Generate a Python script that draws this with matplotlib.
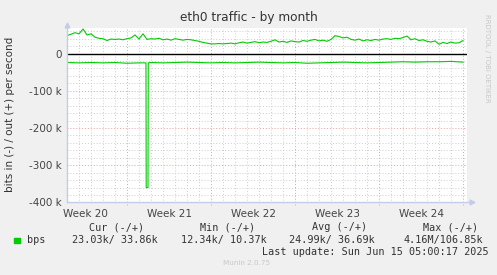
"""Munin style eth0 traffic graph, by month."""
import matplotlib
matplotlib.use("Agg")
import matplotlib.pyplot as plt

W, H = 497, 275

# Data (values in bits per second, x in days from graph start)
out_step = 1 / 3.0  # one reading every 4 px
out_k = [48, 52, 56, 53, 66, 50, 53, 44, 41, 40,
         35, 39, 38, 39, 37, 40, 42, 50, 39, 53,
         38, 40, 39, 41, 37, 39, 36, 40, 38, 36,
         38, 37, 35, 33, 30, 28, 26, 26, 27, 26,
         27, 28, 26, 29, 31, 28, 30, 32, 29, 31,
         30, 33, 37, 31, 33, 30, 34, 32, 31, 35,
         33, 36, 38, 34, 36, 33, 38, 48, 46, 42,
         44, 38, 36, 39, 34, 37, 35, 38, 36, 39,
         40, 38, 41, 40, 43, 47, 37, 40, 35, 37,
         33, 31, 34, 25, 30, 27, 31, 28, 29, 35]
out_days = [i * out_step for i in range(len(out_k))]

in_days = [0, 1, 2, 3, 4, 5, 6, 6.58, 6.60, 6.75, 6.77,
           7, 8, 9, 10, 11, 12, 13, 14, 15, 16, 17, 18, 19, 20,
           21, 22, 23, 24, 25, 26, 27, 28, 29, 30, 31, 32, 33]
in_k = [-24, -25, -24, -25, -24, -26, -25, -25, -360, -360, -25,
        -24, -25, -24, -23, -24, -25, -24, -25, -24, -23, -24, -25, -24, -26,
        -25, -24, -23, -24, -25, -24, -23, -22, -23, -22, -22, -21, -23]

week_labels = ["Week 20", "Week 21", "Week 22", "Week 23", "Week 24"]
week_lines = [5.04, 12.04, 19.04, 26.04, 33.04]
y_ticks = [0, -100e3, -200e3, -300e3, -400e3]
y_tick_labels = ["0", "-100 k", "-200 k", "-300 k", "-400 k"]

col_heads = ["Cur (-/+)", "Min (-/+)", "Avg (-/+)", "Max (-/+)"]
col_vals = ["23.03k/ 33.86k", "12.34k/ 10.37k", "24.99k/ 36.69k", "4.16M/106.85k"]

GREEN = "#00CC00"
AXIS = "#C4CCEA"
MINOR = "#CDCDCD"
MAJOR = "#E6A0A0"

fig = plt.figure(figsize=(W / 100, H / 100), dpi=100, facecolor="#F0F0F0")
ax = fig.add_axes([67 / W, 1 - 202.5 / H, 400 / W, 175 / H])
ax.set_facecolor("white")
ax.set_xlim(0, 400 / 12)
ax.set_ylim(-400e3, 70e3)
for s in ax.spines.values():
    s.set_visible(False)

# grid: minor every day / 20k, major every week / 100k
dots = (0, (1, 2))
for d in range(34):
    x = week_lines[-1] - d
    if x > 0 and all(abs(x - w) > 0.01 for w in week_lines):
        ax.axvline(x, color=MINOR, lw=0.7, ls=dots, zorder=1)
for w in week_lines:
    ax.plot([w, w], [-408e3, 70e3], color=MAJOR, lw=0.7, ls=dots,
            zorder=1, clip_on=False)
for v in range(-400, 70, 20):
    if v % 100:
        ax.axhline(v * 1e3, color=MINOR, lw=0.7, ls=dots, zorder=1)
for v in y_ticks[1:]:
    ax.axhline(v, color=MAJOR, lw=0.7, ls=dots, zorder=1)

ax.axhline(0, color="black", lw=1.0, zorder=3)

ax.plot(out_days, [v * 1e3 for v in out_k], color=GREEN, lw=0.8, zorder=4)
ax.plot(in_days, [v * 1e3 for v in in_k], color=GREEN, lw=0.8, zorder=4)

# axes with arrows
ax.plot([0, 0], [-400e3, 75e3], color=AXIS, lw=1.0, clip_on=False, zorder=5)
ax.plot([0, 400 / 12 + 0.3], [-400e3, -400e3], color=AXIS, lw=1.0,
        clip_on=False, zorder=5)
ax.plot([0], [78e3], marker="^", ms=3.5, color=AXIS, clip_on=False, zorder=5)
ax.plot([400 / 12 + 0.4], [-400e3], marker=">", ms=3.5, color=AXIS,
        clip_on=False, zorder=5)

ax.set_xticks([w - 3.5 for w in week_lines])
ax.set_xticklabels(week_labels)
ax.set_yticks(y_ticks)
ax.set_yticklabels(y_tick_labels)
ax.tick_params(length=0, labelsize=7.5, colors="#444444", pad=4)
ax.tick_params(axis="x", pad=5)

fig.text(0.5, 1 - 18 / H, "eth0 traffic - by month", ha="center", va="center",
         fontsize=8.7, color="#333333")
fig.text(10 / W, 1 - 114 / H, "bits in (-) / out (+) per second",
         rotation=90, ha="center", va="center", fontsize=7.5, color="#333333")
fig.text(487 / W, 1 - 58 / H, "RRDTOOL / TOBI OETIKER", rotation=-90,
         ha="center", va="center", fontsize=5, color="#C8C8C8")

# legend table
mono = "DejaVu Sans Mono"
head_x = [89, 200, 312, 423]
val_x = [72.5, 181, 289, 403]
for t, x in zip(col_heads, head_x):
    fig.text(x / W, 1 - 227 / H, t, family=mono, fontsize=7.3,
             color="#333333", va="center")
for t, x in zip(col_vals, val_x):
    fig.text(x / W, 1 - 240 / H, t, family=mono, fontsize=7.3,
             color="#333333", va="center")
fig.patches.append(plt.Rectangle((14 / W, 1 - 243 / H), 5.5 / W, 5.5 / H,
                                 transform=fig.transFigure, color=GREEN))
fig.text(26.5 / W, 1 - 240 / H, "bps", family=mono, fontsize=7.3,
         color="#333333", va="center")
fig.text(261.5 / W, 1 - 252 / H, "Last update: Sun Jun 15 05:00:17 2025",
         family=mono, fontsize=7.3, color="#333333", va="center")
fig.text(223 / W, 1 - 263 / H, "Munin 2.0.75", fontsize=5.2,
         color="#C8C8C8", va="center")

fig.savefig("out.png", dpi=100, facecolor=fig.get_facecolor())
